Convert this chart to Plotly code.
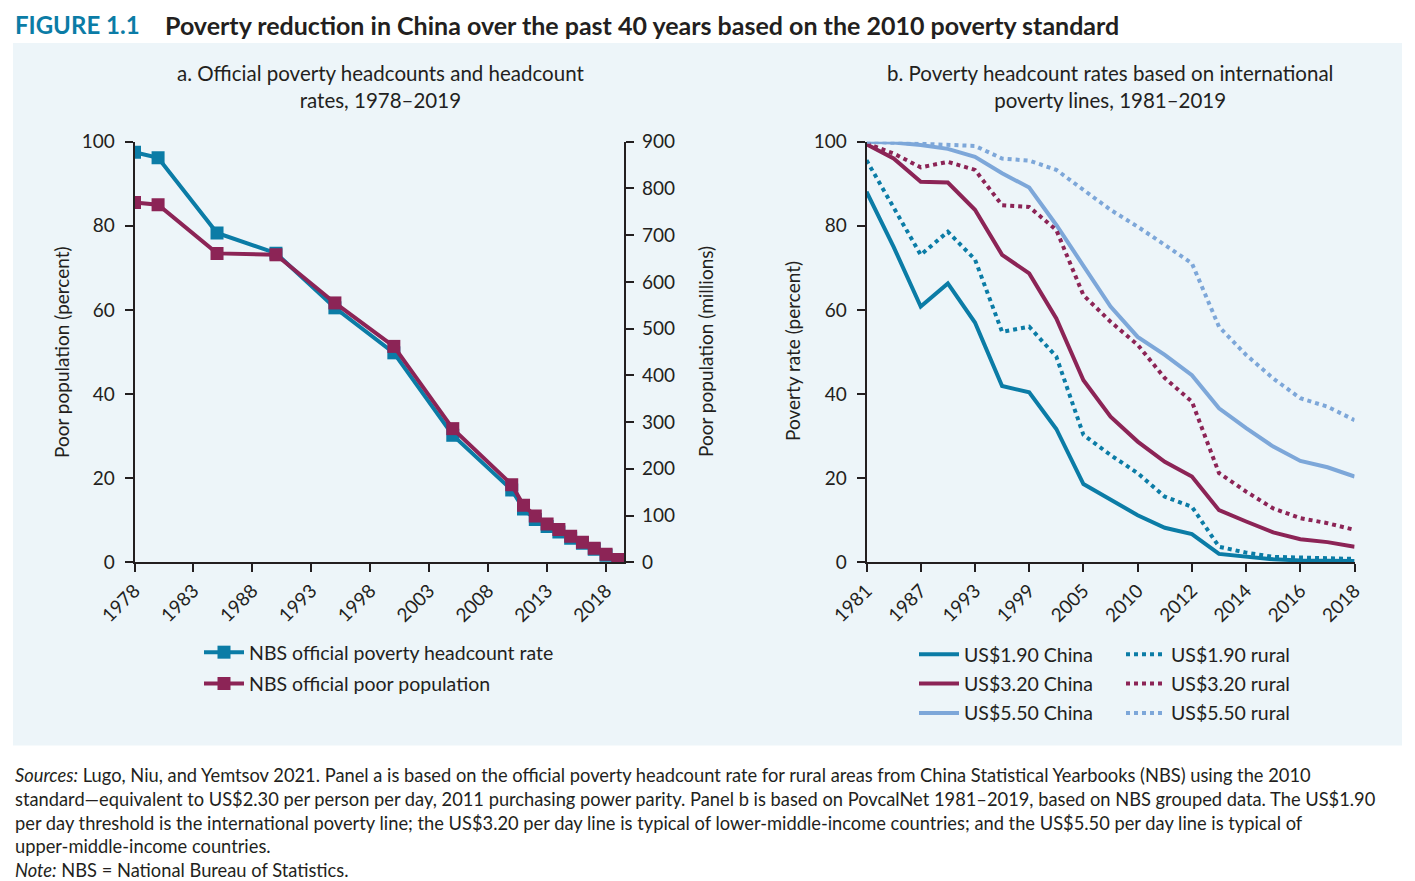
import plotly.graph_objects as go

# ---------------- data ----------------
years_a = [1978, 1980, 1985, 1990, 1995, 2000, 2005, 2010, 2011, 2012, 2013,
           2014, 2015, 2016, 2017, 2018, 2019]
rate_a = [97.5, 96.2, 78.3, 73.5, 60.5, 49.8, 30.2, 17.2, 12.7, 10.2, 8.5,
          7.2, 5.7, 4.5, 3.1, 1.7, 0.6]
pop_a = [770, 765, 661, 658, 555, 462, 286, 166, 122, 99, 82, 70, 56, 43, 30, 17, 6]
xticks_a = [1978, 1983, 1988, 1993, 1998, 2003, 2008, 2013, 2018]

years_b = ["1981", "1984", "1987", "1990", "1993", "1996", "1999", "2002", "2005",
           "2008", "2010", "2011", "2012", "2013", "2014", "2015", "2016", "2017", "2018"]
xticks_b = ["1981", "1987", "1993", "1999", "2005", "2010", "2012", "2014", "2016", "2018"]
china_190 = [88.1, 75.0, 60.8, 66.3, 57.0, 41.9, 40.4, 31.7, 18.6, 14.8, 11.2, 8.2, 6.7,
             2.0, 1.3, 0.7, 0.4, 0.3, 0.3]
rural_190 = [95.6, 84.5, 73.1, 78.6, 72.0, 54.8, 56.0, 48.9, 30.3, 25.5, 21.2, 15.6, 13.2,
             3.7, 2.3, 1.3, 1.1, 1.0, 0.8]
china_320 = [99.4, 96.0, 90.5, 90.3, 83.8, 73.1, 68.7, 58.0, 43.3, 34.6, 28.7, 23.9, 20.4,
             12.4, 9.7, 7.1, 5.5, 4.8, 3.7]
rural_320 = [99.6, 97.2, 93.9, 95.2, 93.3, 84.9, 84.5, 79.0, 63.5, 57.2, 51.7, 43.8, 38.2,
             21.2, 16.8, 12.8, 10.5, 9.3, 7.7]
china_550 = [100.0, 99.8, 99.2, 98.3, 96.4, 92.5, 89.1, 80.2, 70.5, 60.8, 53.6, 49.3, 44.5,
             36.6, 31.9, 27.5, 24.1, 22.6, 20.4]
rural_550 = [100.0, 99.8, 99.4, 99.2, 99.0, 96.0, 95.5, 93.3, 88.5, 83.8, 79.8, 75.4, 71.1,
             56.0, 49.3, 43.7, 39.0, 37.0, 33.8]

# ---------------- style ----------------
OFF = 8  # default page body margin
W, H = 1415 - OFF, 881 - OFF
TEAL = "#0B7CA6"
MAROON = "#8C2456"
LBLUE = "#7DA7D9"
TXT = "#231F20"
PANEL = "#EDF5F9"
FONT = "Lato"


def px(x):
    return (x - OFF) / W


def py(y):
    return 1 - (y - OFF) / H


fig = go.Figure()

# Panel a
fig.add_trace(go.Scatter(x=years_a, y=rate_a, name="NBS official poverty headcount rate",
                         mode="lines+markers", line=dict(color=TEAL, width=4),
                         marker=dict(symbol="square", size=13, color=TEAL),
                         xaxis="x", yaxis="y", legend="legend", legendgroup="a1"))
fig.add_trace(go.Scatter(x=years_a, y=pop_a, name="NBS official poor population",
                         mode="lines+markers", line=dict(color=MAROON, width=4),
                         marker=dict(symbol="square", size=13, color=MAROON),
                         xaxis="x", yaxis="y2", legend="legend", legendgroup="a2"))

# Panel b
series_b = [
    ("US$1.90 China", china_190, TEAL, "solid", "legend2", "b1"),
    ("US$3.20 China", china_320, MAROON, "solid", "legend2", "b2"),
    ("US$5.50 China", china_550, LBLUE, "solid", "legend2", "b3"),
    ("US$1.90 rural", rural_190, TEAL, "dot", "legend3", "b4"),
    ("US$3.20 rural", rural_320, MAROON, "dot", "legend3", "b5"),
    ("US$5.50 rural", rural_550, LBLUE, "dot", "legend3", "b6"),
]
for name, vals, col, dash, leg, grp in series_b:
    fig.add_trace(go.Scatter(x=years_b, y=vals, name=name, mode="lines",
                             line=dict(color=col, width=4, dash=dash),
                             xaxis="x2", yaxis="y3", legend=leg, legendgroup=grp))

axis_common = dict(showline=True, linecolor=TXT, linewidth=1.6, ticks="outside",
                   ticklen=8, tickwidth=1.6, tickcolor=TXT, showgrid=False,
                   zeroline=False, automargin=False,
                   tickfont=dict(family=FONT, size=19, color=TXT))

ya_dom = [py(562.3), py(141.7)]

fig.update_layout(
    width=W, height=H,
    margin=dict(l=0, r=0, t=0, b=0, autoexpand=False),
    paper_bgcolor="white", plot_bgcolor="rgba(0,0,0,0)",
    font=dict(family=FONT, size=19, color=TXT),
    xaxis=dict(domain=[px(134.5), px(624.3)], range=[1978, 2019.55], tickmode="array",
               tickvals=xticks_a, tickangle=-45, anchor="y", **axis_common),
    yaxis=dict(domain=ya_dom, range=[0, 100], tickvals=[0, 20, 40, 60, 80, 100],
               anchor="x", ticklabelstandoff=6, **axis_common),
    yaxis2=dict(domain=ya_dom, range=[0, 900], overlaying="y", side="right",
                anchor="x", tickvals=list(range(0, 1000, 100)), ticklabelstandoff=4,
                **axis_common),
    xaxis2=dict(domain=[px(866.5), px(1354.6)], type="category", range=[0, 18],
                categoryorder="array", categoryarray=years_b,
                tickmode="array", tickvals=xticks_b, ticktext=xticks_b,
                tickangle=-45, anchor="y3", **axis_common),
    yaxis3=dict(domain=ya_dom, range=[0, 100], tickvals=[0, 20, 40, 60, 80, 100],
                anchor="x2", ticklabelstandoff=6, **axis_common),
    legend=dict(x=px(199), y=py(633), xanchor="left", yanchor="top",
                bgcolor="rgba(0,0,0,0)", tracegroupgap=3, itemwidth=40,
                font=dict(family=FONT, size=19.5, color=TXT)),
    legend2=dict(x=px(914), y=py(635), xanchor="left", yanchor="top",
                 bgcolor="rgba(0,0,0,0)", tracegroupgap=1, itemwidth=40,
                 font=dict(family=FONT, size=19.5, color=TXT)),
    legend3=dict(x=px(1121), y=py(635), xanchor="left", yanchor="top",
                 bgcolor="rgba(0,0,0,0)", tracegroupgap=1, itemwidth=40,
                 font=dict(family=FONT, size=19.5, color=TXT)),
    showlegend=True,
)

# background panel
fig.add_shape(type="rect", xref="paper", yref="paper", x0=px(13), x1=px(1402),
              y0=py(745.5), y1=py(43), fillcolor=PANEL, line=dict(width=0), layer="below")

annots = [
    dict(x=px(13), y=1.0, text="<b>FIGURE 1.1</b>", xanchor="left", yanchor="top",
         font=dict(family=FONT, size=24, color=TEAL)),
    dict(x=px(163), y=1.0,
         text="<b>Poverty reduction in China over the past 40 years based on the 2010 poverty standard</b>",
         xanchor="left", yanchor="top", font=dict(family=FONT, size=25, color=TXT)),
    dict(x=px(380), y=py(86), text="a. Official poverty headcounts and headcount<br>rates, 1978–2019",
         xanchor="center", yanchor="middle", align="center",
         font=dict(family=FONT, size=20.5, color=TXT)),
    dict(x=px(1110), y=py(86),
         text="b. Poverty headcount rates based on international<br>poverty lines, 1981–2019",
         xanchor="center", yanchor="middle", align="center",
         font=dict(family=FONT, size=20.5, color=TXT)),
    # axis titles
    dict(x=px(62), y=py(352), text="Poor population (percent)", textangle=-90,
         xanchor="center", yanchor="middle", font=dict(family=FONT, size=19, color=TXT)),
    dict(x=px(706), y=py(352), text="Poor population (millions)", textangle=-90,
         xanchor="center", yanchor="middle", font=dict(family=FONT, size=19, color=TXT)),
    dict(x=px(793), y=py(351), text="Poverty rate (percent)", textangle=-90,
         xanchor="center", yanchor="middle", font=dict(family=FONT, size=19, color=TXT)),
    dict(x=px(13), y=py(762),
         text=("<i>Sources:</i> Lugo, Niu, and Yemtsov 2021. Panel a is based on the official poverty headcount rate for rural areas from China Statistical Yearbooks (NBS) using the 2010<br>"
               "standard—equivalent to US$2.30 per person per day, 2011 purchasing power parity. Panel b is based on PovcalNet 1981–2019, based on NBS grouped data. The US$1.90<br>"
               "per day threshold is the international poverty line; the US$3.20 per day line is typical of lower-middle-income countries; and the US$5.50 per day line is typical of<br>"
               "upper-middle-income countries.<br>"
               "<i>Note:</i> NBS = National Bureau of Statistics."),
         xanchor="left", yanchor="top", align="left",
         font=dict(family=FONT, size=18.3, color=TXT)),
]
for a in annots:
    fig.add_annotation(xref="paper", yref="paper", showarrow=False, **a)

fig.write_html("out.html")
